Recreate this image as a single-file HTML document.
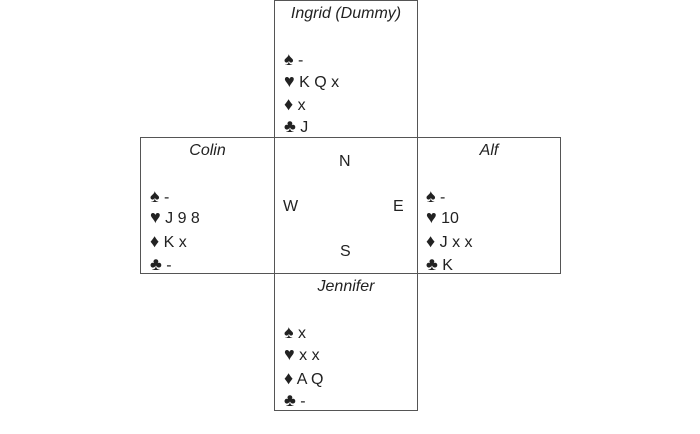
<!DOCTYPE html>
<html><head><style>
body{margin:0;width:700px;height:434px;background:#fff;position:relative;font-family:"Liberation Sans","DejaVu Sans",sans-serif;font-size:16px;color:#222;overflow:hidden}
.b{position:absolute;border:1px solid #555;box-sizing:border-box}
.t{position:absolute;line-height:18px;white-space:nowrap}
.h{font-style:italic;text-align:center}
.s{font-size:18px}
</style></head><body>
<div class="b" style="left:274px;top:0;width:144px;height:138px"></div>
<div class="b" style="left:140px;top:137px;width:135px;height:137px"></div>
<div class="b" style="left:274px;top:137px;width:144px;height:137px"></div>
<div class="b" style="left:417px;top:137px;width:144px;height:137px"></div>
<div class="b" style="left:274px;top:273px;width:144px;height:138px"></div>

<div class="t h" style="left:274px;width:144px;top:5px">Ingrid (Dummy)</div>
<div class="t" style="left:284px;top:50px"><span class="s">♠</span> -</div>
<div class="t" style="left:284px;top:72px"><span class="s">♥</span> K Q x</div>
<div class="t" style="left:284px;top:95px"><span class="s">♦</span> x</div>
<div class="t" style="left:284px;top:117px"><span class="s">♣</span> J</div>

<div class="t h" style="left:140px;width:135px;top:142px">Colin</div>
<div class="t" style="left:150px;top:187px"><span class="s">♠</span> -</div>
<div class="t" style="left:150px;top:208px"><span class="s">♥</span> J 9 8</div>
<div class="t" style="left:150px;top:232px"><span class="s">♦</span> K x</div>
<div class="t" style="left:150px;top:255px"><span class="s">♣</span> -</div>

<div class="t h" style="left:417px;width:144px;top:142px">Alf</div>
<div class="t" style="left:426px;top:187px"><span class="s">♠</span> -</div>
<div class="t" style="left:426px;top:208px"><span class="s">♥</span> 10</div>
<div class="t" style="left:426px;top:232px"><span class="s">♦</span> J x x</div>
<div class="t" style="left:426px;top:255px"><span class="s">♣</span> K</div>

<div class="t" style="left:339px;top:153px">N</div>
<div class="t" style="left:283px;top:198px">W</div>
<div class="t" style="left:393px;top:198px">E</div>
<div class="t" style="left:340px;top:243px">S</div>

<div class="t h" style="left:274px;width:144px;top:278px">Jennifer</div>
<div class="t" style="left:284px;top:323px"><span class="s">♠</span> x</div>
<div class="t" style="left:284px;top:345px"><span class="s">♥</span> x x</div>
<div class="t" style="left:284px;top:369px"><span class="s">♦</span> A Q</div>
<div class="t" style="left:284px;top:391px"><span class="s">♣</span> -</div>
</body></html>
